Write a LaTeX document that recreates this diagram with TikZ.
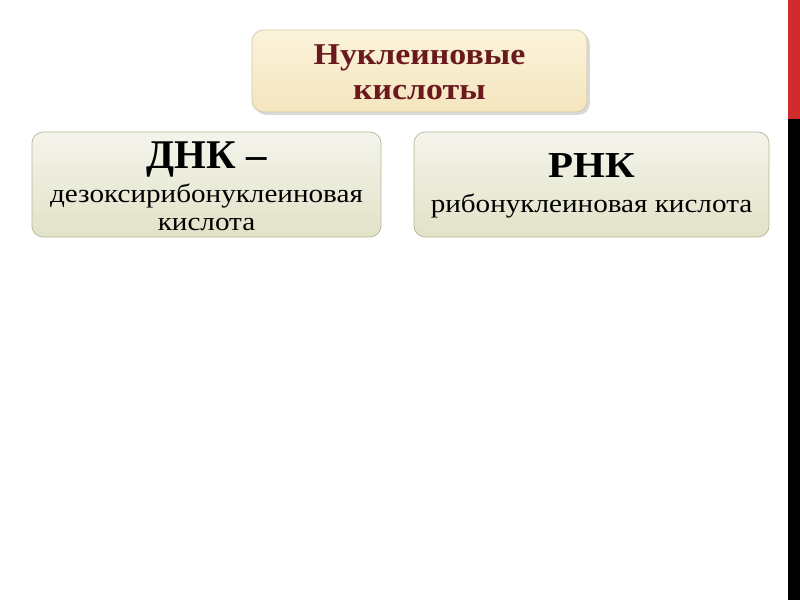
\documentclass[tikz,border=0pt]{standalone}
\usepackage{fontspec}
\setmainfont[FakeStretch=1.12]{Liberation Serif}
\newfontfamily\headfont{Liberation Serif}
\usetikzlibrary{shadows}
\definecolor{titleRed}{HTML}{6A1A1E}
\definecolor{titleTop}{HTML}{FBF3DA}
\definecolor{titleBottom}{HTML}{F4E5BE}
\definecolor{boxTop}{HTML}{F4F4EC}
\definecolor{boxBottom}{HTML}{E2E2C8}
\definecolor{boxLine}{HTML}{B5B597}
\definecolor{stripRed}{HTML}{D22B2D}
\newcommand{\boxtext}[3]{\raisebox{#2}[\height][\depth]{\parbox{#1}{\centering #3}}}
\begin{document}
\begin{tikzpicture}
[x=0.025cm,y=-0.025cm,
  boxDecorate/.style={draw=boxLine,line width=0.5pt,rounded corners=8pt,
    top color=boxTop,bottom color=boxBottom,align=center,
    inner sep=0pt,text=black},
  titleDecorate/.style={boxDecorate,draw=titleBottom!70!gray,
    top color=titleTop,bottom color=titleBottom,text=titleRed,
    drop shadow={shadow xshift=2pt,shadow yshift=-2pt,opacity=0.3}}]
\useasboundingbox (0,0) rectangle (800,600);
%% side strip
\fill[black] (788,0) rectangle (800,600);
\fill[stripRed] (788,0) rectangle (800,119);
%% boxes
\node (nucl) at (419.5,71) [titleDecorate,minimum width=8.375cm,minimum height=2.05cm,
  font=\fontsize{21.5}{25}\selectfont\bfseries]
  {\boxtext{7.8cm}{-1pt}{Нуклеиновые\\ кислоты}};
\node (dna) at (206.5,184.5) [boxDecorate,minimum width=8.725cm,minimum height=2.625cm,
  font=\fontsize{18.5}{20}\selectfont]
  {\boxtext{8.3cm}{-1.5pt}{{\headfont\fontsize{29}{29}\selectfont\bfseries ДНК –}\\[4pt]
   дезоксирибонуклеиновая\\ кислота}};
\node (rna) at (591.5,184.5) [boxDecorate,minimum width=8.875cm,minimum height=2.625cm,
  font=\fontsize{18.5}{20}\selectfont]
  {\boxtext{8.3cm}{-1pt}{{\fontsize{26}{26}\selectfont\bfseries РНК}\\[4.9pt]
   рибонуклеиновая кислота}};
\end{tikzpicture}
\end{document}
